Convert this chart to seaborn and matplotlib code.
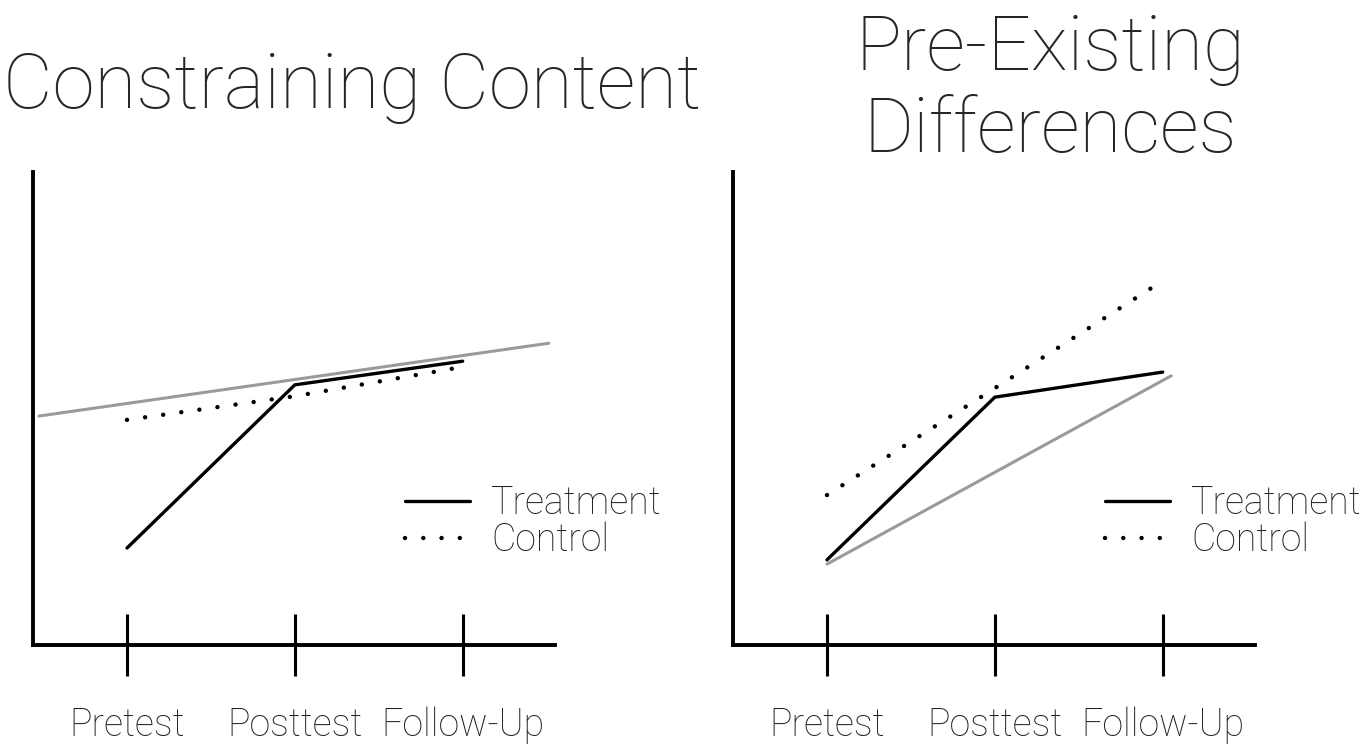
import numpy as np
import pandas as pd
import matplotlib
matplotlib.use('Agg')
import matplotlib.pyplot as plt
import seaborn as sns

# ─────────────────────────────────────────
# DATA (y on a 0-100 scale)
# ─────────────────────────────────────────
phases = ['Pretest', 'Posttest', 'Follow-Up']
phase_pos = [0, 1, 2]

# left panel: Constraining Content
cc_treatment = [20.5, 55.0, 60.0]
cc_control = [47.6, 52.6, 58.8]
cc_ref_x = [-0.525, 2.513]
cc_ref_y = [48.4, 63.8]

# right panel: Pre-Existing Differences
pe_treatment = [18.0, 52.4, 57.7]
pe_control = [31.7, 54.3, 77.0]
pe_ref_x = [0.0, 2.05]
pe_ref_y = [17.1, 56.9]

titles = ['Constraining Content', 'Pre-Existing\nDifferences']
groups = ['Treatment', 'Control']

# ─────────────────────────────────────────
# STYLE
# ─────────────────────────────────────────
sns.set_style('white')
plt.rcParams['font.family'] = ['Roboto', 'DejaVu Sans']
plt.rcParams['font.weight'] = 'light'

W, H = 1371, 753
fig = plt.figure(figsize=(W / 100, H / 100), dpi=100)
ax1 = fig.add_axes([33 / W, 1 - 645 / H, 522 / W, 473 / H])
ax2 = fig.add_axes([733 / W, 1 - 645 / H, 522 / W, 473 / H])

dot_style = (0, (0.01, 4.1))


def draw_panel(ax, treatment, control, ref_x, ref_y):
    df = pd.DataFrame({
        'phase': phase_pos * 2,
        'score': treatment + control,
        'group': [groups[0]] * 3 + [groups[1]] * 3,
    })
    # grey reference line
    sns.lineplot(x=ref_x, y=ref_y, color='#9a9a9a', lw=2.2, ax=ax)
    sns.lineplot(data=df[df['group'] == 'Treatment'], x='phase', y='score',
                 color='black', lw=2.4, ax=ax, label='Treatment')
    sns.lineplot(data=df[df['group'] == 'Control'], x='phase', y='score',
                 color='black', lw=3.2, linestyle=dot_style,
                 dash_capstyle='round', ax=ax, label='Control')

    ax.set_xlim(-0.56, 2.55)
    ax.set_ylim(0, 100)
    ax.set_xticks(phase_pos, phases)
    ax.set_yticks([])
    ax.set_xlabel('')
    ax.set_ylabel('')
    ax.tick_params(axis='x', bottom=True, direction='inout', length=44,
                   width=2.2, pad=22, labelsize=27, labelcolor='#222222',
                   color='black')
    sns.despine(ax=ax)
    for side in ['left', 'bottom']:
        ax.spines[side].set_linewidth(2.8)
        ax.spines[side].set_color('black')

    leg = ax.legend(loc='upper left', bbox_to_anchor=(0.713, 0.34),
                    frameon=False, fontsize=27, handlelength=1.72,
                    handletextpad=0.58, labelspacing=0.0,
                    borderpad=0, borderaxespad=0)
    for t in leg.get_texts():
        t.set_color('#222222')


draw_panel(ax1, cc_treatment, cc_control, cc_ref_x, cc_ref_y)
draw_panel(ax2, pe_treatment, pe_control, pe_ref_x, pe_ref_y)

# titles
fig.text(352 / W, 1 - 108 / H, titles[0], ha='center', va='baseline',
         fontsize=55)
fig.text(1050 / W, 1 - 152 / H, titles[1], ha='center', va='baseline',
         fontsize=55, linespacing=1.15)

fig.savefig('out.png', dpi=100)
